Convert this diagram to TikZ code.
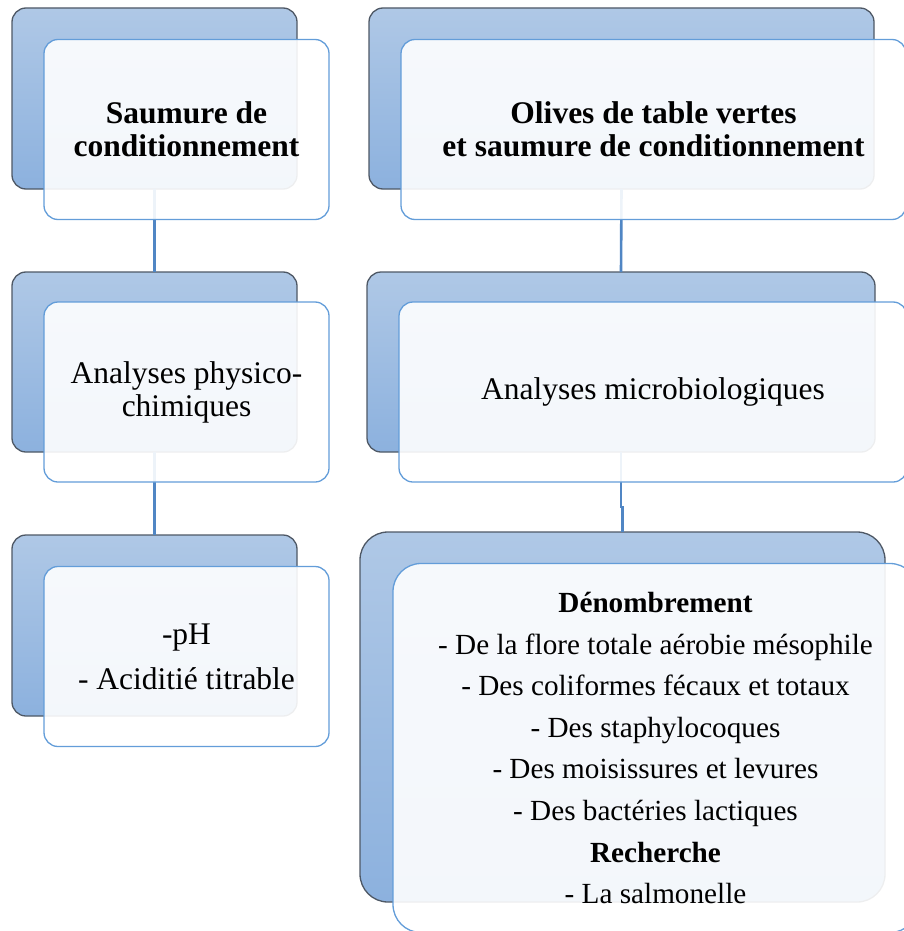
\documentclass[tikz,border=0pt]{standalone}
\usepackage{fontspec}
\setmainfont{Liberation Serif}
\usepackage{tikz}
\usetikzlibrary{positioning}
\definecolor{BackTop}{HTML}{AFC8E6}
\definecolor{BackBottom}{HTML}{8CB1DE}
\definecolor{BackLine}{HTML}{4E5865}
\definecolor{FrontLine}{HTML}{639DD9}
\definecolor{LinkBlue}{HTML}{5086C4}

\begin{document}
\begin{tikzpicture}[x=1pt,y=-1pt,
  backbox/.style={draw=BackLine,line width=1.3pt,top color=BackTop,bottom color=BackBottom,rounded corners=14pt,inner sep=0pt,outer sep=0pt},
  frontbox/.style={draw=FrontLine,line width=1.3pt,fill=white,fill opacity=0.9,text opacity=1,rounded corners=14pt,inner sep=0pt,outer sep=0pt,align=center},
  link/.style={draw=LinkBlue,line width=2.6pt}]
  \useasboundingbox (0,0) rectangle (903,931);
  % back boxes
  \node[backbox,minimum width=285pt,minimum height=181pt] (b1) at (154.5,98.5) {};
  \node[backbox,minimum width=285pt,minimum height=180pt] (b2) at (154.5,362) {};
  \node[backbox,minimum width=285pt,minimum height=181pt] (b3) at (154.5,625.5) {};
  \node[backbox,minimum width=505pt,minimum height=181pt] (b4) at (621.5,98.5) {};
  \node[backbox,minimum width=508pt,minimum height=180pt] (b5) at (621,362) {};
  \node[backbox,minimum width=525pt,minimum height=370pt,rounded corners=28pt] (b6) at (622.5,717) {};
  % connectors
  \draw[link] (b1.south) -- (b2.north);
  \draw[link] (b2.south) -- (b3.north);
  \draw[link] (b4.south) -- (b5.north);
  \draw[link] (b5.south) -- ++(0,55) -| (b6.north);
  % front boxes
  \node[frontbox,minimum width=285pt,minimum height=180pt,font=\fontsize{31.5}{33}\selectfont\bfseries] (f1) at ([shift={(32,31)}]b1.center) {Saumure de\\conditionnement};
  \node[frontbox,minimum width=285pt,minimum height=180pt,font=\fontsize{31.5}{33}\selectfont] (f2) at ([shift={(32,30)}]b2.center) {Analyses physico-\\chimiques};
  \node[frontbox,minimum width=285pt,minimum height=180pt,font=\fontsize{31.5}{45}\selectfont] (f3) at ([shift={(32,31)}]b3.center) {-pH\\- Aciditié titrable};
  \node[frontbox,minimum width=505pt,minimum height=180pt,font=\fontsize{31.5}{33}\selectfont\bfseries] (f4) at ([shift={(32,31)}]b4.center) {Olives de table vertes\\et saumure de conditionnement};
  \node[frontbox,minimum width=508pt,minimum height=180pt,font=\fontsize{31.5}{33}\selectfont] (f5) at ([shift={(32,30)}]b5.center) {Analyses microbiologiques};
  \node[frontbox,minimum width=525pt,minimum height=369pt,rounded corners=28pt,font=\fontsize{29.2}{41.6}\selectfont] (f6) at ([shift={(33,31)}]b6.center) {\textbf{Dénombrement}\\- De la flore totale aérobie mésophile\\- Des coliformes fécaux et totaux\\- Des staphylocoques\\- Des moisissures et levures\\- Des bactéries lactiques\\\textbf{Recherche}\\- La salmonelle};
\end{tikzpicture}
\end{document}
